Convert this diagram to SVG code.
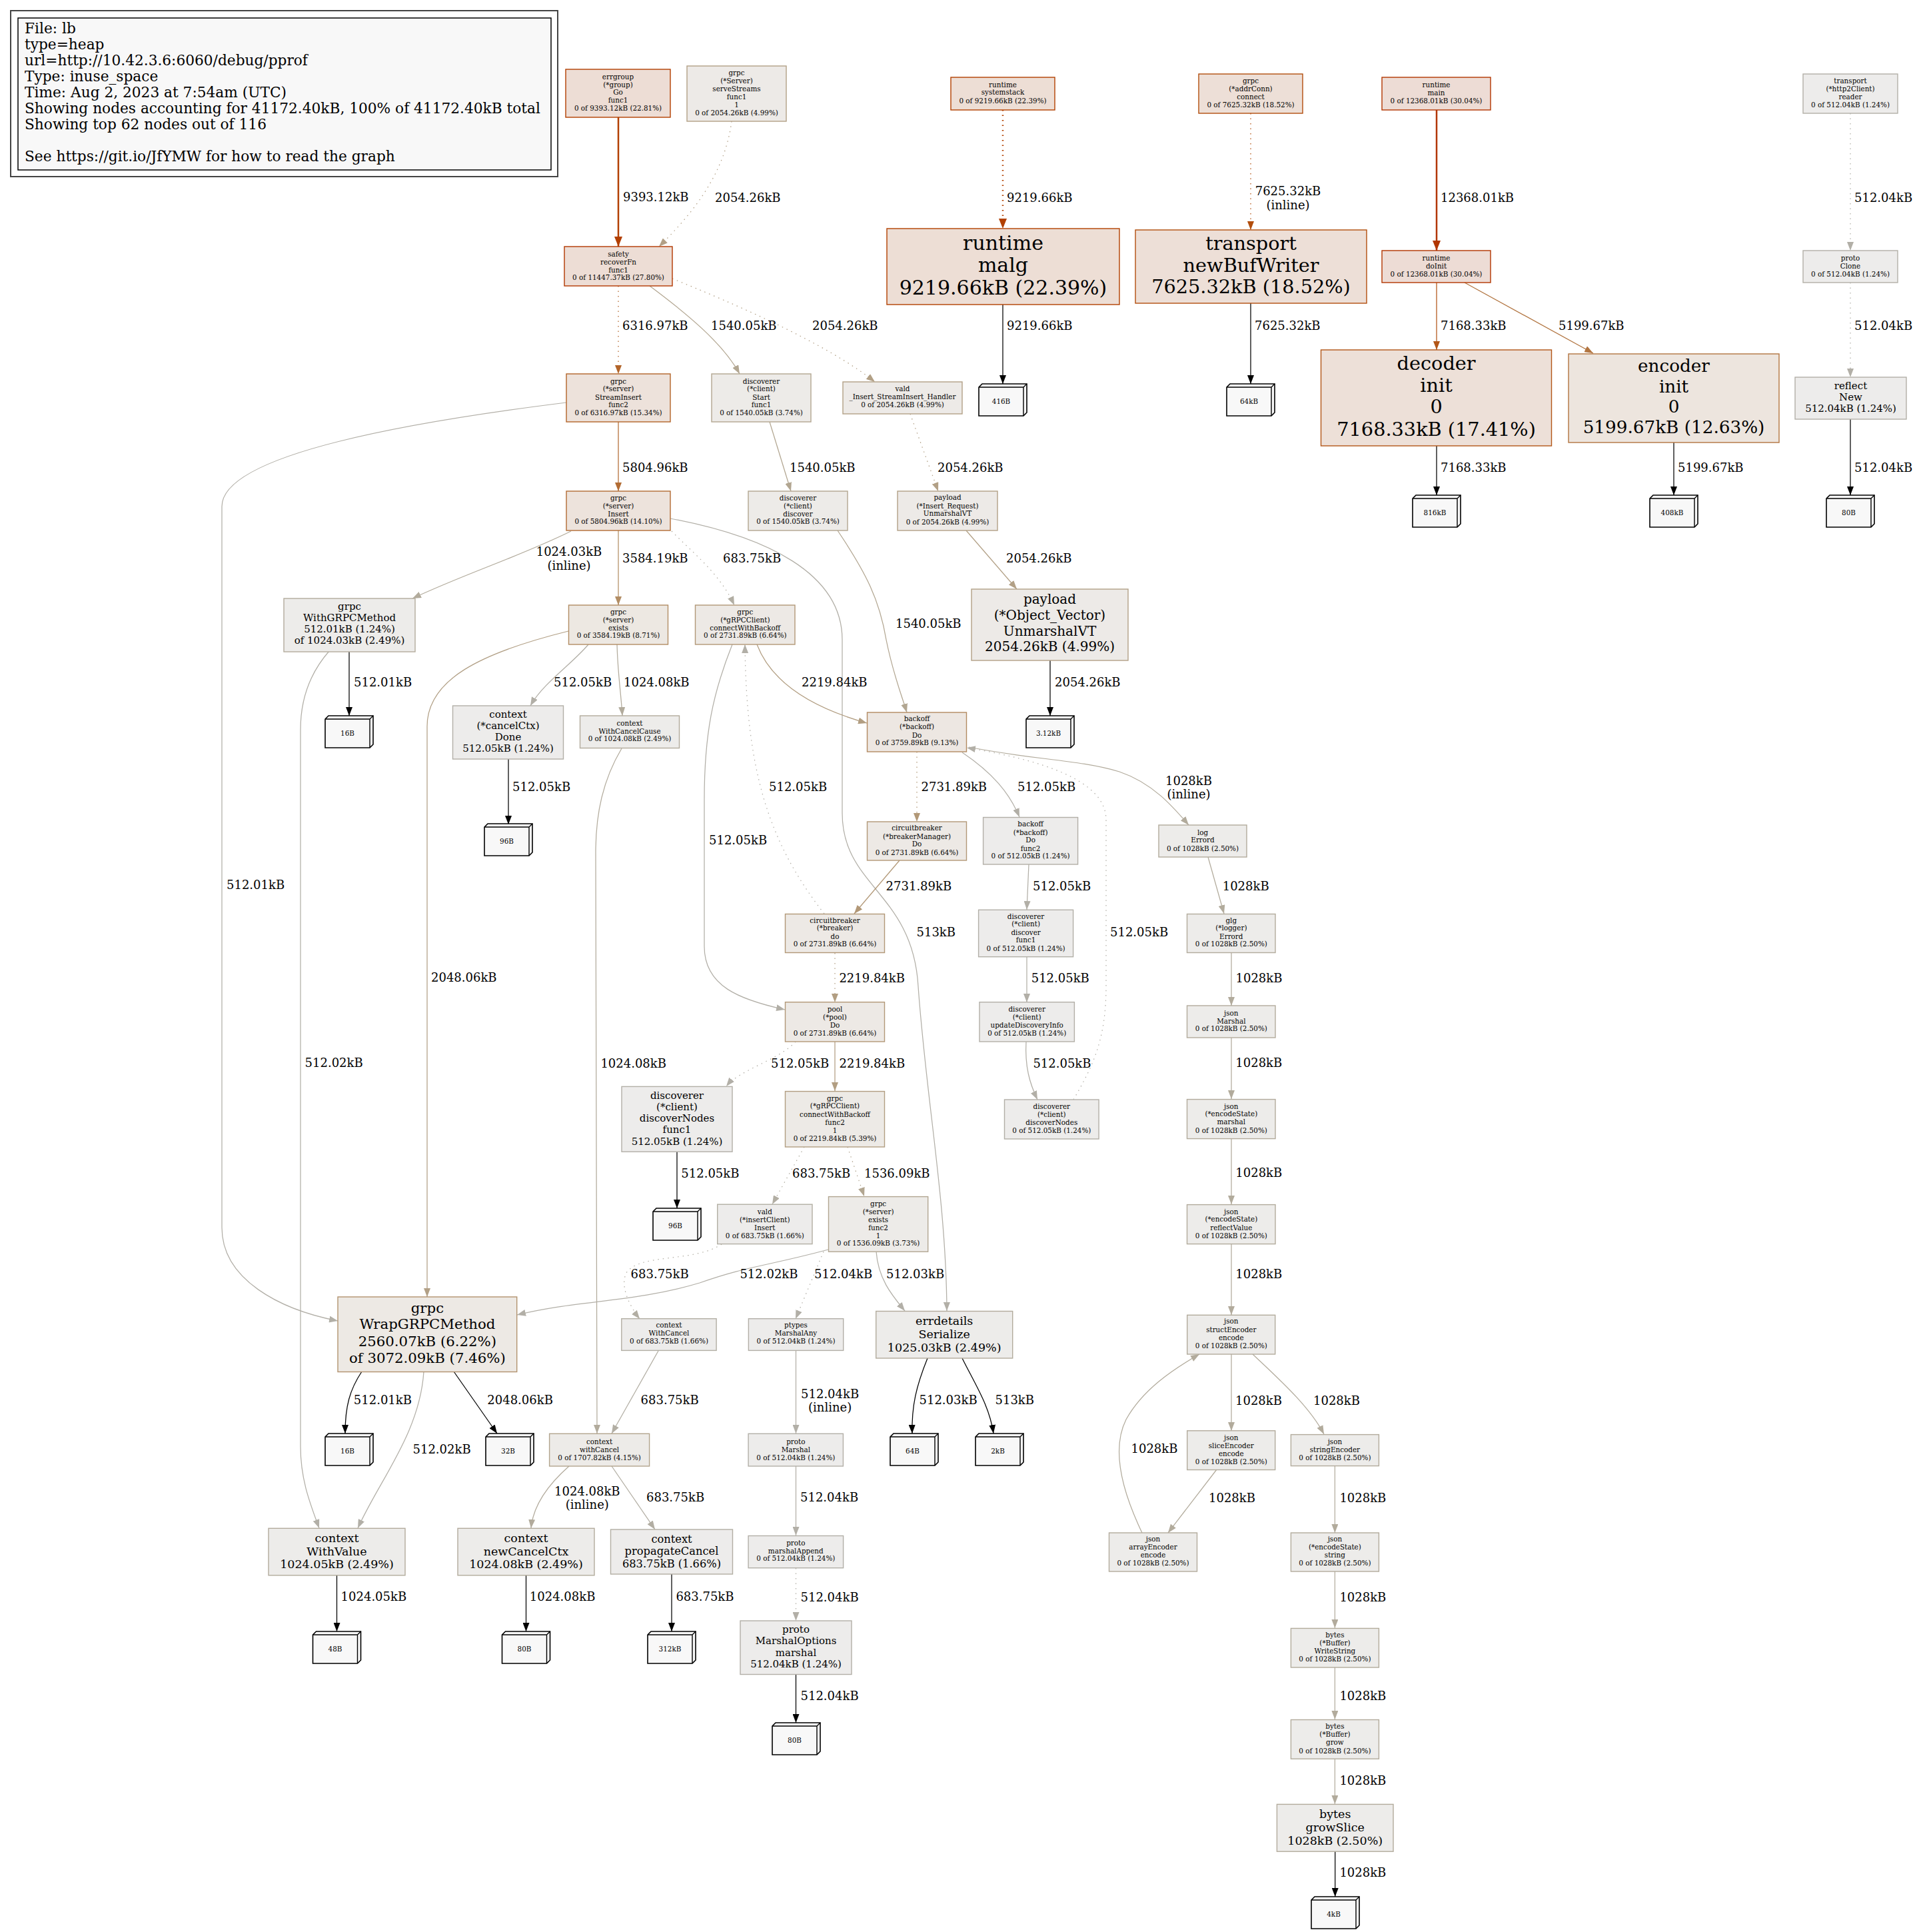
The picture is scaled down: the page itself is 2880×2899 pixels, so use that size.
<svg xmlns="http://www.w3.org/2000/svg" xmlns:xlink="http://www.w3.org/1999/xlink" width="2880" height="2899" viewBox="0 0 2880 2899">
<style>
text{font-family:"DejaVu Serif",serif;fill:#000}
.t{font-size:10.4px;text-anchor:middle}
.f15{font-size:15px;text-anchor:middle}
.f16{font-size:16.25px;text-anchor:middle}
.f17{font-size:17.5px;text-anchor:middle}
.f20{font-size:20px;text-anchor:middle}
.f21{font-size:21.25px;text-anchor:middle}
.f26{font-size:26.25px;text-anchor:middle}
.f28{font-size:28.75px;text-anchor:middle}
.f30{font-size:30px;text-anchor:middle}
.l{font-size:18px}
.lm{font-size:18px;text-anchor:middle}
.g{font-size:21.7px}
.e{fill:none;stroke-width:1.25}
.d{stroke-dasharray:1.5,6}
.w{stroke-width:2.5}
rect.n{stroke-width:1.4}
</style>
<defs>
<marker id="m36" viewBox="0 0 15 12" refX="15" refY="6" markerWidth="15" markerHeight="12" orient="auto" markerUnits="userSpaceOnUse"><path d="M0,0L15,6L0,12z" fill="#b23600"/></marker>
<marker id="m3f" viewBox="0 0 15 12" refX="15" refY="6" markerWidth="15" markerHeight="12" orient="auto" markerUnits="userSpaceOnUse"><path d="M0,0L15,6L0,12z" fill="#b23f00"/></marker>
<marker id="m40" viewBox="0 0 15 12" refX="15" refY="6" markerWidth="15" markerHeight="12" orient="auto" markerUnits="userSpaceOnUse"><path d="M0,0L15,6L0,12z" fill="#b24000"/></marker>
<marker id="m4e" viewBox="0 0 13 10" refX="13" refY="5" markerWidth="13" markerHeight="10" orient="auto" markerUnits="userSpaceOnUse"><path d="M0,0L13,5L0,10z" fill="#b24e0d"/></marker>
<marker id="m56" viewBox="0 0 13 10" refX="13" refY="5" markerWidth="13" markerHeight="10" orient="auto" markerUnits="userSpaceOnUse"><path d="M0,0L13,5L0,10z" fill="#b25617"/></marker>
<marker id="m64" viewBox="0 0 13 10" refX="13" refY="5" markerWidth="13" markerHeight="10" orient="auto" markerUnits="userSpaceOnUse"><path d="M0,0L13,5L0,10z" fill="#b26429"/></marker>
<marker id="m6c" viewBox="0 0 13 10" refX="13" refY="5" markerWidth="13" markerHeight="10" orient="auto" markerUnits="userSpaceOnUse"><path d="M0,0L13,5L0,10z" fill="#b26c34"/></marker>
<marker id="m75" viewBox="0 0 13 10" refX="13" refY="5" markerWidth="13" markerHeight="10" orient="auto" markerUnits="userSpaceOnUse"><path d="M0,0L13,5L0,10z" fill="#b27541"/></marker>
<marker id="m8d" viewBox="0 0 13 10" refX="13" refY="5" markerWidth="13" markerHeight="10" orient="auto" markerUnits="userSpaceOnUse"><path d="M0,0L13,5L0,10z" fill="#b28d64"/></marker>
<marker id="m98" viewBox="0 0 13 10" refX="13" refY="5" markerWidth="13" markerHeight="10" orient="auto" markerUnits="userSpaceOnUse"><path d="M0,0L13,5L0,10z" fill="#b29877"/></marker>
<marker id="m9e" viewBox="0 0 13 10" refX="13" refY="5" markerWidth="13" markerHeight="10" orient="auto" markerUnits="userSpaceOnUse"><path d="M0,0L13,5L0,10z" fill="#b29e82"/></marker>
<marker id="ma0" viewBox="0 0 13 10" refX="13" refY="5" markerWidth="13" markerHeight="10" orient="auto" markerUnits="userSpaceOnUse"><path d="M0,0L13,5L0,10z" fill="#b2a086"/></marker>
<marker id="ma6" viewBox="0 0 13 10" refX="13" refY="5" markerWidth="13" markerHeight="10" orient="auto" markerUnits="userSpaceOnUse"><path d="M0,0L13,5L0,10z" fill="#b2a691"/></marker>
<marker id="mab" viewBox="0 0 13 10" refX="13" refY="5" markerWidth="13" markerHeight="10" orient="auto" markerUnits="userSpaceOnUse"><path d="M0,0L13,5L0,10z" fill="#b2ab9c"/></marker>
<marker id="mae" viewBox="0 0 13 10" refX="13" refY="5" markerWidth="13" markerHeight="10" orient="auto" markerUnits="userSpaceOnUse"><path d="M0,0L13,5L0,10z" fill="#b2aea3"/></marker>
<marker id="maf" viewBox="0 0 13 10" refX="13" refY="5" markerWidth="13" markerHeight="10" orient="auto" markerUnits="userSpaceOnUse"><path d="M0,0L13,5L0,10z" fill="#b2afa7"/></marker>
<marker id="mk" viewBox="0 0 13 10" refX="13" refY="5" markerWidth="13" markerHeight="10" orient="auto" markerUnits="userSpaceOnUse"><path d="M0,0L13,5L0,10z" fill="#000"/></marker>
<g id="box3d"><path d="M0,5L5,0L72,0L72,43L67,48L0,48Z" fill="#f8f8f8" stroke="#000" stroke-width="1.6"/><path d="M0,5L67,5L67,48M67,5L72,0" fill="none" stroke="#000" stroke-width="1.4"/></g>
</defs>
<rect width="2880" height="2899" fill="#fff"/>

<g id="legend">
<rect x="16" y="16" width="821" height="249" fill="#fff" stroke="#444" stroke-width="2"/>
<rect x="27" y="27" width="800" height="228" fill="#f8f8f8" stroke="#000" stroke-width="1.5"/>
<text class="g"><tspan x="37" y="49.5">File: lb</tspan><tspan x="37" y="73.5">type=heap</tspan><tspan x="37" y="97.5">url=http://10.42.3.6:6060/debug/pprof</tspan><tspan x="37" y="122">Type: inuse_space</tspan><tspan x="37" y="146">Time: Aug 2, 2023 at 7:54am (UTC)</tspan><tspan x="37" y="170">Showing nodes accounting for 41172.40kB, 100% of 41172.40kB total</tspan><tspan x="37" y="194">Showing top 62 nodes out of 116</tspan><tspan x="37" y="242">See https://git.io/JfYMW for how to read the graph</tspan></text>
</g>

<g id="connectors">
<path class="e w" stroke="#b23f00" marker-end="url(#m3f)" d="M928,176V370"/>
<path class="e d" stroke="#b2a086" marker-end="url(#ma0)" d="M1098,182C1088,260 1040,320 989,370"/>
<path class="e d w" stroke="#b24000" marker-end="url(#m40)" d="M1505,165V343"/>
<path class="e d" stroke="#b24e0d" marker-end="url(#m4e)" d="M1877,170V345"/>
<path class="e w" stroke="#b23600" marker-end="url(#m36)" d="M2156,165V376"/>
<path class="e d" stroke="#b2afa7" marker-end="url(#maf)" d="M2777,170V376"/>
<path class="e d" stroke="#b26429" marker-end="url(#m64)" d="M928,429V561"/>
<path class="e" stroke="#b2a691" marker-end="url(#ma6)" d="M975,429C1030,470 1085,515 1110,561"/>
<path class="e d" stroke="#b2a086" marker-end="url(#ma0)" d="M1009,418C1100,455 1240,515 1313,573"/>
<path class="e" stroke="#b26c34" marker-end="url(#m6c)" d="M928,633V737"/>
<path class="e" stroke="#b2afa7" marker-end="url(#maf)" d="M850,604C560,640 333,690 333,760L333,1842C333,1920 420,1965 507,1982"/>
<path class="e" stroke="#b2ab9c" marker-end="url(#mab)" d="M857,797C780,835 700,860 619,898"/>
<path class="e" stroke="#b28d64" marker-end="url(#m8d)" d="M928,796V908"/>
<path class="e d" stroke="#b2aea3" marker-end="url(#mae)" d="M1008,797C1040,830 1080,860 1102,908"/>
<path class="e" stroke="#b2afa7" marker-end="url(#maf)" d="M1006,778C1150,805 1264,860 1264,960L1264,1220C1264,1330 1370,1340 1378,1480C1390,1650 1420,1800 1421,1967"/>
<path class="e" stroke="#b2a086" marker-end="url(#ma0)" d="M853,947C720,980 641,1020 641,1090L641,1946"/>
<path class="e" stroke="#b2afa7" marker-end="url(#maf)" d="M883,967C860,995 815,1025 796,1059"/>
<path class="e" stroke="#b2ab9c" marker-end="url(#mab)" d="M926,967C927,1010 932,1040 934,1074"/>
<path class="e" stroke="#000" marker-end="url(#mk)" d="M524,978V1074"/>
<path class="e" stroke="#b2afa7" marker-end="url(#maf)" d="M494,977C465,1010 451,1050 451,1095L451,2170C451,2220 465,2255 479,2293"/>
<path class="e" stroke="#000" marker-end="url(#mk)" d="M763,1139V1237"/>
<path class="e" stroke="#b2ab9c" marker-end="url(#mab)" d="M933,1123C905,1170 894,1220 894,1280L896,2151"/>
<path class="e" stroke="#b29e82" marker-end="url(#m9e)" d="M1136,967C1160,1030 1230,1065 1301,1085"/>
<path class="e" stroke="#b2a691" marker-end="url(#ma6)" d="M1155,633L1187,737"/>
<path class="e d" stroke="#b2a086" marker-end="url(#ma0)" d="M1366,621L1408,737"/>
<path class="e" stroke="#b2a691" marker-end="url(#ma6)" d="M1257,796C1300,860 1320,900 1330,960C1340,1010 1352,1040 1361,1069"/>
<path class="e" stroke="#b2a086" marker-end="url(#ma0)" d="M1450,796L1526,884"/>
<path class="e" stroke="#000" marker-end="url(#mk)" d="M1576,991V1074"/>
<path class="e" stroke="#b2afa7" marker-end="url(#maf)" d="M1099,967C1070,1040 1057,1100 1057,1200L1057,1420C1057,1480 1110,1500 1178,1515"/>
<path class="e d" stroke="#b2afa7" marker-end="url(#maf)" d="M1237,1371C1150,1260 1120,1150 1118,967"/>
<path class="e d" stroke="#b29877" marker-end="url(#m98)" d="M1376,1128V1233"/>
<path class="e" stroke="#b2afa7" marker-end="url(#maf)" d="M1444,1129C1490,1160 1515,1190 1530,1226"/>
<path class="e" stroke="#b2ab9c" marker-end="url(#mab)" d="M1454,1121C1550,1140 1620,1140 1680,1158C1730,1175 1760,1210 1784,1238"/>
<path class="e d" stroke="#b2afa7" marker-end="url(#maf)" d="M1611,1650C1640,1600 1660,1560 1660,1480L1660,1230C1660,1170 1560,1140 1451,1122"/>
<path class="e" stroke="#b29877" marker-end="url(#m98)" d="M1350,1291L1282,1371"/>
<path class="e" stroke="#b2afa7" marker-end="url(#maf)" d="M1544,1297L1541,1365"/>
<path class="e" stroke="#b2ab9c" marker-end="url(#mab)" d="M1813,1286L1837,1371"/>
<path class="e d" stroke="#b29e82" marker-end="url(#m9e)" d="M1253,1430V1504"/>
<path class="e" stroke="#b2afa7" marker-end="url(#maf)" d="M1541,1436V1504"/>
<path class="e" stroke="#b2ab9c" marker-end="url(#mab)" d="M1848,1430V1509"/>
<path class="e d" stroke="#b2afa7" marker-end="url(#maf)" d="M1194,1563C1170,1590 1110,1605 1090,1630"/>
<path class="e" stroke="#b29e82" marker-end="url(#m9e)" d="M1253,1563V1637"/>
<path class="e" stroke="#b2afa7" marker-end="url(#maf)" d="M1540,1563C1538,1600 1545,1625 1557,1650"/>
<path class="e" stroke="#b2ab9c" marker-end="url(#mab)" d="M1848,1557V1649"/>
<path class="e" stroke="#000" marker-end="url(#mk)" d="M1016,1728V1813"/>
<path class="e d" stroke="#b2aea3" marker-end="url(#mae)" d="M1207,1721L1159,1807"/>
<path class="e d" stroke="#b2a691" marker-end="url(#ma6)" d="M1272,1721L1297,1795"/>
<path class="e" stroke="#b2ab9c" marker-end="url(#mab)" d="M1848,1708V1807"/>
<path class="e d" stroke="#b2aea3" marker-end="url(#mae)" d="M1083,1867C1040,1895 960,1880 940,1910C930,1930 945,1960 960,1979"/>
<path class="e" stroke="#b2afa7" marker-end="url(#maf)" d="M1243,1875C1150,1900 1120,1900 1050,1925C950,1955 870,1950 776,1973"/>
<path class="e d" stroke="#b2afa7" marker-end="url(#maf)" d="M1236,1878L1194,1979"/>
<path class="e" stroke="#b2afa7" marker-end="url(#maf)" d="M1315,1878C1318,1920 1340,1945 1358,1967"/>
<path class="e" stroke="#b2ab9c" marker-end="url(#mab)" d="M1848,1866V1973"/>
<path class="e" stroke="#b2aea3" marker-end="url(#mae)" d="M988,2027L918,2151"/>
<path class="e" stroke="#b2afa7" marker-end="url(#maf)" d="M1194.5,2026V2151"/>
<path class="e" stroke="#000" marker-end="url(#mk)" d="M1392,2038C1375,2080 1368,2110 1369,2151"/>
<path class="e" stroke="#000" marker-end="url(#mk)" d="M1444,2038C1465,2080 1485,2110 1491,2151"/>
<path class="e" stroke="#b2ab9c" marker-end="url(#mab)" d="M1848,2032V2147"/>
<path class="e" stroke="#b2ab9c" marker-end="url(#mab)" d="M1880,2032C1920,2070 1965,2110 1987,2152"/>
<path class="e" stroke="#b2ab9c" marker-end="url(#mab)" d="M1714,2300C1690,2250 1665,2180 1690,2130C1715,2085 1760,2055 1800,2032"/>
<path class="e" stroke="#b2ab9c" marker-end="url(#mab)" d="M1826,2205L1753,2300"/>
<path class="e" stroke="#b2ab9c" marker-end="url(#mab)" d="M2003.4,2200V2300"/>
<path class="e" stroke="#b2ab9c" marker-end="url(#mab)" d="M2003.4,2358V2443"/>
<path class="e" stroke="#b2ab9c" marker-end="url(#mab)" d="M2003.4,2502V2580"/>
<path class="e" stroke="#b2ab9c" marker-end="url(#mab)" d="M2003.4,2639V2707"/>
<path class="e" stroke="#000" marker-end="url(#mk)" d="M2003.7,2778V2846"/>
<path class="e" stroke="#000" marker-end="url(#mk)" d="M543,2058C525,2085 518,2110 518,2151"/>
<path class="e" stroke="#000" marker-end="url(#mk)" d="M681,2058L746,2151"/>
<path class="e" stroke="#b2afa7" marker-end="url(#maf)" d="M636,2058C630,2150 570,2220 537,2293"/>
<path class="e" stroke="#b2ab9c" marker-end="url(#mab)" d="M854,2200C820,2230 800,2260 797,2293"/>
<path class="e" stroke="#b2aea3" marker-end="url(#mae)" d="M918,2200L983,2295"/>
<path class="e" stroke="#b2afa7" marker-end="url(#maf)" d="M1194.5,2200V2304"/>
<path class="e" stroke="#000" marker-end="url(#mk)" d="M505.5,2364V2448"/>
<path class="e" stroke="#000" marker-end="url(#mk)" d="M789.5,2364V2448"/>
<path class="e" stroke="#000" marker-end="url(#mk)" d="M1008,2362V2448"/>
<path class="e d" stroke="#b2afa7" marker-end="url(#maf)" d="M1194.5,2353V2432"/>
<path class="e" stroke="#000" marker-end="url(#mk)" d="M1194.5,2512V2585"/>
<path class="e" stroke="#000" marker-end="url(#mk)" d="M1505,457V576"/>
<path class="e" stroke="#000" marker-end="url(#mk)" d="M1877,455V576"/>
<path class="e" stroke="#b25617" marker-end="url(#m56)" d="M2156,424V525"/>
<path class="e" stroke="#b27541" marker-end="url(#m75)" d="M2198,424L2391,530"/>
<path class="e d" stroke="#b2afa7" marker-end="url(#maf)" d="M2777,424V566"/>
<path class="e" stroke="#000" marker-end="url(#mk)" d="M2156,669V743"/>
<path class="e" stroke="#000" marker-end="url(#mk)" d="M2512,664V743"/>
<path class="e" stroke="#000" marker-end="url(#mk)" d="M2777,629V743"/>

<text class="l" x="935" y="302">9393.12kB</text>
<text class="l" x="1073" y="303">2054.26kB</text>
<text class="l" x="1511" y="303">9219.66kB</text>
<text class="lm"><tspan x="1933" y="293">7625.32kB</tspan><tspan x="1933" y="314">(inline)</tspan></text>
<text class="l" x="2162" y="303">12368.01kB</text>
<text class="l" x="2783" y="303">512.04kB</text>
<text class="l" x="934" y="495">6316.97kB</text>
<text class="l" x="1067" y="495">1540.05kB</text>
<text class="l" x="1219" y="495">2054.26kB</text>
<text class="l" x="1511" y="495">9219.66kB</text>
<text class="l" x="1883" y="495">7625.32kB</text>
<text class="l" x="2162" y="495">7168.33kB</text>
<text class="l" x="2339" y="495">5199.67kB</text>
<text class="l" x="2783" y="495">512.04kB</text>
<text class="l" x="934" y="707.6">5804.96kB</text>
<text class="l" x="1185" y="707.6">1540.05kB</text>
<text class="l" x="1407" y="707.6">2054.26kB</text>
<text class="l" x="2162" y="707.6">7168.33kB</text>
<text class="l" x="2518" y="707.6">5199.67kB</text>
<text class="l" x="2783" y="707.6">512.04kB</text>
<text class="lm"><tspan x="854" y="834">1024.03kB</tspan><tspan x="854" y="855">(inline)</tspan></text>
<text class="l" x="934" y="844">3584.19kB</text>
<text class="l" x="1085" y="844">683.75kB</text>
<text class="l" x="1510" y="844">2054.26kB</text>
<text class="l" x="1344" y="941.8">1540.05kB</text>
<text class="l" x="1583" y="1029.6">2054.26kB</text>
<text class="l" x="831" y="1030">512.05kB</text>
<text class="l" x="936" y="1030">1024.08kB</text>
<text class="l" x="531" y="1030">512.01kB</text>
<text class="l" x="1203" y="1030">2219.84kB</text>
<text class="l" x="769" y="1187">512.05kB</text>
<text class="l" x="1154" y="1187">512.05kB</text>
<text class="l" x="1382.5" y="1187">2731.89kB</text>
<text class="l" x="1527" y="1187">512.05kB</text>
<text class="lm"><tspan x="1784" y="1177.5">1028kB</tspan><tspan x="1784" y="1198">(inline)</tspan></text>
<text class="l" x="1064" y="1267">512.05kB</text>
<text class="l" x="340" y="1334">512.01kB</text>
<text class="l" x="1329.6" y="1335.7">2731.89kB</text>
<text class="l" x="1550" y="1335.7">512.05kB</text>
<text class="l" x="1834.7" y="1335.7">1028kB</text>
<text class="l" x="1375.5" y="1405">513kB</text>
<text class="l" x="1666" y="1405">512.05kB</text>
<text class="l" x="647" y="1473">2048.06kB</text>
<text class="l" x="1259.4" y="1474">2219.84kB</text>
<text class="l" x="1547.7" y="1474">512.05kB</text>
<text class="l" x="1854.5" y="1474">1028kB</text>
<text class="l" x="457.6" y="1601">512.02kB</text>
<text class="l" x="901.4" y="1601.7">1024.08kB</text>
<text class="l" x="1157" y="1601.7">512.05kB</text>
<text class="l" x="1259.6" y="1601.7">2219.84kB</text>
<text class="l" x="1550.4" y="1601.7">512.05kB</text>
<text class="l" x="1854.3" y="1601">1028kB</text>
<text class="l" x="1022.3" y="1766.9">512.05kB</text>
<text class="l" x="1189" y="1766.9">683.75kB</text>
<text class="l" x="1297" y="1766.9">1536.09kB</text>
<text class="l" x="1854.3" y="1766.4">1028kB</text>
<text class="l" x="946.6" y="1917.8">683.75kB</text>
<text class="l" x="1110.4" y="1917.8">512.02kB</text>
<text class="l" x="1222" y="1917.8">512.04kB</text>
<text class="l" x="1330" y="1917.8">512.03kB</text>
<text class="l" x="1854.3" y="1917.8">1028kB</text>
<text class="l" x="961.6" y="2107.4">683.75kB</text>
<text class="lm"><tspan x="1245.6" y="2097.6">512.04kB</tspan><tspan x="1245.6" y="2117.7">(inline)</tspan></text>
<text class="l" x="1379.5" y="2107.4">512.03kB</text>
<text class="l" x="1493.5" y="2107.4">513kB</text>
<text class="l" x="1854" y="2107.6">1028kB</text>
<text class="l" x="1971" y="2107.6">1028kB</text>
<text class="l" x="530.8" y="2107.4">512.01kB</text>
<text class="l" x="731.3" y="2107.4">2048.06kB</text>
<text class="l" x="1697.5" y="2180.3">1028kB</text>
<text class="l" x="619.5" y="2180.6">512.02kB</text>
<text class="lm"><tspan x="881.3" y="2243.6">1024.08kB</tspan><tspan x="881.3" y="2263.7">(inline)</tspan></text>
<text class="l" x="970" y="2253.4">683.75kB</text>
<text class="l" x="1201" y="2253.4">512.04kB</text>
<text class="l" x="1814" y="2253.7">1028kB</text>
<text class="l" x="2010.4" y="2253.7">1028kB</text>
<text class="l" x="511.6" y="2402.1">1024.05kB</text>
<text class="l" x="794.8" y="2402.1">1024.08kB</text>
<text class="l" x="1014.4" y="2402.1">683.75kB</text>
<text class="l" x="1201.5" y="2402.5">512.04kB</text>
<text class="l" x="2010.4" y="2402.9">1028kB</text>
<text class="l" x="2010.4" y="2550.9">1028kB</text>
<text class="l" x="1201.5" y="2550.7">512.04kB</text>
<text class="l" x="2010.4" y="2677.8">1028kB</text>
<text class="l" x="2010.4" y="2816.1">1028kB</text>
</g>

<g id="n-errgroup"><rect class="n" x="849" y="104" width="157" height="72" fill="#edddd5" stroke="#b23f00"/><text class="t"><tspan x="927.5" y="118.9">errgroup</tspan><tspan x="927.5" y="130.6">(*group)</tspan><tspan x="927.5" y="142.4">Go</tspan><tspan x="927.5" y="154.2">func1</tspan><tspan x="927.5" y="166.4">0 of 9393.12kB (22.81%)</tspan></text></g>
<g id="n-serveStreams"><rect class="n" x="1031" y="99" width="149" height="83" fill="#edeae7" stroke="#b2a086"/><text class="t"><tspan x="1105.5" y="113.1">grpc</tspan><tspan x="1105.5" y="124.5">(*Server)</tspan><tspan x="1105.5" y="136.7">serveStreams</tspan><tspan x="1105.5" y="148.5">func1</tspan><tspan x="1105.5" y="160.5">1</tspan><tspan x="1105.5" y="172.5">0 of 2054.26kB (4.99%)</tspan></text></g>
<g id="n-systemstack"><rect class="n" x="1427" y="116" width="156" height="49" fill="#edded5" stroke="#b24000"/><text class="t"><tspan x="1505" y="130.6">runtime</tspan><tspan x="1505" y="142.4">systemstack</tspan><tspan x="1505" y="154.6">0 of 9219.66kB (22.39%)</tspan></text></g>
<g id="n-addrConn"><rect class="n" x="1799" y="111" width="156" height="59" fill="#eddfd7" stroke="#b24e0d"/><text class="t"><tspan x="1877" y="125.3">grpc</tspan><tspan x="1877" y="136.7">(*addrConn)</tspan><tspan x="1877" y="148.5">connect</tspan><tspan x="1877" y="160.6">0 of 7625.32kB (18.52%)</tspan></text></g>
<g id="n-main"><rect class="n" x="2074" y="116" width="163" height="49" fill="#eddcd5" stroke="#b23600"/><text class="t"><tspan x="2155.5" y="130.6">runtime</tspan><tspan x="2155.5" y="142.8">main</tspan><tspan x="2155.5" y="154.6">0 of 12368.01kB (30.04%)</tspan></text></g>
<g id="n-http2reader"><rect class="n" x="2706" y="111" width="142" height="59" fill="#edeceb" stroke="#b2afa7"/><text class="t"><tspan x="2777" y="124.5">transport</tspan><tspan x="2777" y="136.7">(*http2Client)</tspan><tspan x="2777" y="148.5">reader</tspan><tspan x="2777" y="160.6">0 of 512.04kB (1.24%)</tspan></text></g>
<g id="n-doInit"><rect class="n" x="2074" y="376" width="163" height="48" fill="#eddcd5" stroke="#b23600"/><text class="t"><tspan x="2155.5" y="390.6">runtime</tspan><tspan x="2155.5" y="402.5">doInit</tspan><tspan x="2155.5" y="414.5">0 of 12368.01kB (30.04%)</tspan></text></g>
<g id="n-clone"><rect class="n" x="2706" y="376" width="142" height="48" fill="#edeceb" stroke="#b2afa7"/><text class="t"><tspan x="2777" y="390.6">proto</tspan><tspan x="2777" y="402.5">Clone</tspan><tspan x="2777" y="414.5">0 of 512.04kB (1.24%)</tspan></text></g>
<g id="n-recoverFn"><rect class="n" x="847" y="370" width="162" height="59" fill="#edddd5" stroke="#b23800"/><text class="t"><tspan x="928" y="384.9">safety</tspan><tspan x="928" y="397.1">recoverFn</tspan><tspan x="928" y="408.5">func1</tspan><tspan x="928" y="419.9">0 of 11447.37kB (27.80%)</tspan></text></g>
<g id="n-malg"><rect class="n" x="1331" y="343" width="349" height="114" fill="#edded5" stroke="#b24000"/><text class="f30"><tspan x="1505.5" y="374.5">runtime</tspan><tspan x="1505.5" y="407.5">malg</tspan><tspan x="1505.5" y="441.5">9219.66kB (22.39%)</tspan></text></g>
<g id="n-newBufWriter"><rect class="n" x="1704" y="345" width="347" height="110" fill="#eddfd7" stroke="#b24e0d"/><text class="f28"><tspan x="1877.5" y="375">transport</tspan><tspan x="1877.5" y="408.2">newBufWriter</tspan><tspan x="1877.5" y="439.6">7625.32kB (18.52%)</tspan></text></g>
<g id="n-decoder"><rect class="n" x="1982.5" y="525" width="346" height="144" fill="#ede0d8" stroke="#b25617"/><text class="f28"><tspan x="2155.6" y="554.9">decoder</tspan><tspan x="2155.6" y="588">init</tspan><tspan x="2155.6" y="620.2">0</tspan><tspan x="2155.6" y="654.4">7168.33kB (17.41%)</tspan></text></g>
<g id="n-encoder"><rect class="n" x="2354" y="531" width="316" height="133" fill="#ede5de" stroke="#b27541"/><text class="f26"><tspan x="2512" y="558.2">encoder</tspan><tspan x="2512" y="588.8">init</tspan><tspan x="2512" y="619.4">0</tspan><tspan x="2512" y="650">5199.67kB (12.63%)</tspan></text></g>
<g id="n-reflectNew"><rect class="n" x="2694" y="566" width="167" height="63" fill="#edeceb" stroke="#b2afa7"/><text class="f15"><tspan x="2777.5" y="583.9">reflect</tspan><tspan x="2777.5" y="600.7">New</tspan><tspan x="2777.5" y="618">512.04kB (1.24%)</tspan></text></g>
<g id="n-streamInsert"><rect class="n" x="850" y="561" width="156" height="72" fill="#ede2db" stroke="#b26429"/><text class="t"><tspan x="928" y="576">grpc</tspan><tspan x="928" y="587.2">(*server)</tspan><tspan x="928" y="599.7">StreamInsert</tspan><tspan x="928" y="611.3">func2</tspan><tspan x="928" y="623.3">0 of 6316.97kB (15.34%)</tspan></text></g>
<g id="n-startFunc1"><rect class="n" x="1068" y="561" width="149" height="72" fill="#edebe8" stroke="#b2a691"/><text class="t"><tspan x="1142.5" y="576">discoverer</tspan><tspan x="1142.5" y="587.2">(*client)</tspan><tspan x="1142.5" y="599.7">Start</tspan><tspan x="1142.5" y="611.3">func1</tspan><tspan x="1142.5" y="623.3">0 of 1540.05kB (3.74%)</tspan></text></g>
<g id="n-valdHandler"><rect class="n" x="1265" y="573" width="179" height="48" fill="#edeae7" stroke="#b2a086"/><text class="t"><tspan x="1354.5" y="587.2">vald</tspan><tspan x="1354.5" y="599.2">_Insert_StreamInsert_Handler</tspan><tspan x="1354.5" y="611.3">0 of 2054.26kB (4.99%)</tspan></text></g>
<g id="n-insert"><rect class="n" x="850" y="737" width="156" height="59" fill="#ede3dc" stroke="#b26c34"/><text class="t"><tspan x="928" y="751">grpc</tspan><tspan x="928" y="762.6">(*server)</tspan><tspan x="928" y="774.7">Insert</tspan><tspan x="928" y="786.3">0 of 5804.96kB (14.10%)</tspan></text></g>
<g id="n-discover"><rect class="n" x="1123" y="737" width="149" height="59" fill="#edebe8" stroke="#b2a691"/><text class="t"><tspan x="1197.5" y="750.5">discoverer</tspan><tspan x="1197.5" y="762.5">(*client)</tspan><tspan x="1197.5" y="774.5">discover</tspan><tspan x="1197.5" y="786.3">0 of 1540.05kB (3.74%)</tspan></text></g>
<g id="n-insertReqUnmarshal"><rect class="n" x="1347" y="737" width="150" height="59" fill="#edeae7" stroke="#b2a086"/><text class="t"><tspan x="1422" y="750.4">payload</tspan><tspan x="1422" y="762.7">(*Insert_Request)</tspan><tspan x="1422" y="774.4">UnmarshalVT</tspan><tspan x="1422" y="786.7">0 of 2054.26kB (4.99%)</tspan></text></g>
<g id="n-withGRPCMethod"><rect class="n" x="426" y="898" width="197" height="80" fill="#edecea" stroke="#b2ab9c"/><text class="f15"><tspan x="524.5" y="914.9">grpc</tspan><tspan x="524.5" y="932.3">WithGRPCMethod</tspan><tspan x="524.5" y="949.2">512.01kB (1.24%)</tspan><tspan x="524.5" y="966.2">of 1024.03kB (2.49%)</tspan></text></g>
<g id="n-exists"><rect class="n" x="853.5" y="908" width="149" height="59" fill="#ede8e2" stroke="#b28d64"/><text class="t"><tspan x="928" y="922">grpc</tspan><tspan x="928" y="933.6">(*server)</tspan><tspan x="928" y="945.6">exists</tspan><tspan x="928" y="957.3">0 of 3584.19kB (8.71%)</tspan></text></g>
<g id="n-connectWithBackoff"><rect class="n" x="1043.5" y="908" width="149.5" height="59" fill="#ede9e5" stroke="#b29877"/><text class="t"><tspan x="1118.3" y="922">grpc</tspan><tspan x="1118.3" y="933.6">(*gRPCClient)</tspan><tspan x="1118.3" y="945.6">connectWithBackoff</tspan><tspan x="1118.3" y="957.3">0 of 2731.89kB (6.64%)</tspan></text></g>
<g id="n-objectVector"><rect class="n" x="1458" y="884" width="235" height="107" fill="#edeae7" stroke="#b2a086"/><text class="f20"><tspan x="1575.5" y="906">payload</tspan><tspan x="1575.5" y="930">(*Object_Vector)</tspan><tspan x="1575.5" y="954">UnmarshalVT</tspan><tspan x="1575.5" y="977.4">2054.26kB (4.99%)</tspan></text></g>
<g id="n-cancelCtxDone"><rect class="n" x="679.5" y="1059" width="166" height="80" fill="#edeceb" stroke="#b2afa7"/><text class="f15"><tspan x="762.5" y="1076.9">context</tspan><tspan x="762.5" y="1093.9">(*cancelCtx)</tspan><tspan x="762.5" y="1110.8">Done</tspan><tspan x="762.5" y="1128.3">512.05kB (1.24%)</tspan></text></g>
<g id="n-withCancelCause"><rect class="n" x="870.5" y="1074" width="149" height="48.5" fill="#edecea" stroke="#b2ab9c"/><text class="t"><tspan x="945" y="1088.5">context</tspan><tspan x="945" y="1100.5">WithCancelCause</tspan><tspan x="945" y="1112.2">0 of 1024.08kB (2.49%)</tspan></text></g>
<g id="n-backoffDo"><rect class="n" x="1301.5" y="1069" width="149" height="59" fill="#ede7e2" stroke="#b28a61"/><text class="t"><tspan x="1376" y="1082.1">backoff</tspan><tspan x="1376" y="1094.3">(*backoff)</tspan><tspan x="1376" y="1106.5">Do</tspan><tspan x="1376" y="1118.3">0 of 3759.89kB (9.13%)</tspan></text></g>
<g id="n-breakerManagerDo"><rect class="n" x="1301.5" y="1233" width="149" height="58" fill="#ede9e5" stroke="#b29877"/><text class="t"><tspan x="1376" y="1246.4">circuitbreaker</tspan><tspan x="1376" y="1258.6">(*breakerManager)</tspan><tspan x="1376" y="1270.3">Do</tspan><tspan x="1376" y="1282.6">0 of 2731.89kB (6.64%)</tspan></text></g>
<g id="n-backoffDoFunc2"><rect class="n" x="1475.6" y="1226.5" width="142" height="70.5" fill="#edeceb" stroke="#b2afa7"/><text class="t"><tspan x="1546.6" y="1240.2">backoff</tspan><tspan x="1546.6" y="1252.5">(*backoff)</tspan><tspan x="1546.6" y="1264.2">Do</tspan><tspan x="1546.6" y="1276.5">func2</tspan><tspan x="1546.6" y="1288.2">0 of 512.05kB (1.24%)</tspan></text></g>
<g id="n-logErrord"><rect class="n" x="1739" y="1238" width="132" height="48" fill="#edecea" stroke="#b2ab9c"/><text class="t"><tspan x="1805" y="1252.5">log</tspan><tspan x="1805" y="1264.2">Errord</tspan><tspan x="1805" y="1276.5">0 of 1028kB (2.50%)</tspan></text></g>
<g id="n-breakerDo"><rect class="n" x="1178.5" y="1371.5" width="149" height="58" fill="#ede9e5" stroke="#b29877"/><text class="t"><tspan x="1253" y="1384.6">circuitbreaker</tspan><tspan x="1253" y="1396.4">(*breaker)</tspan><tspan x="1253" y="1408.6">do</tspan><tspan x="1253" y="1420.3">0 of 2731.89kB (6.64%)</tspan></text></g>
<g id="n-discoverFunc1"><rect class="n" x="1468.6" y="1365.3" width="142" height="70.4" fill="#edeceb" stroke="#b2afa7"/><text class="t"><tspan x="1539.6" y="1378.5">discoverer</tspan><tspan x="1539.6" y="1390.2">(*client)</tspan><tspan x="1539.6" y="1402.5">discover</tspan><tspan x="1539.6" y="1414.2">func1</tspan><tspan x="1539.6" y="1426.5">0 of 512.05kB (1.24%)</tspan></text></g>
<g id="n-glgErrord"><rect class="n" x="1781.5" y="1371.5" width="132.5" height="58" fill="#edecea" stroke="#b2ab9c"/><text class="t"><tspan x="1847.8" y="1384.6">glg</tspan><tspan x="1847.8" y="1396.4">(*logger)</tspan><tspan x="1847.8" y="1408.6">Errord</tspan><tspan x="1847.8" y="1420.3">0 of 1028kB (2.50%)</tspan></text></g>
<g id="n-jsonMarshal"><rect class="n" x="1781.5" y="1509" width="132.5" height="48" fill="#edecea" stroke="#b2ab9c"/><text class="t"><tspan x="1847.8" y="1524">json</tspan><tspan x="1847.8" y="1535.6">Marshal</tspan><tspan x="1847.8" y="1547.3">0 of 1028kB (2.50%)</tspan></text></g>
<g id="n-encodeStateMarshal"><rect class="n" x="1781.5" y="1649.6" width="132.5" height="59" fill="#edecea" stroke="#b2ab9c"/><text class="t"><tspan x="1847.8" y="1663.8">json</tspan><tspan x="1847.8" y="1675.4">(*encodeState)</tspan><tspan x="1847.8" y="1687.4">marshal</tspan><tspan x="1847.8" y="1699.5">0 of 1028kB (2.50%)</tspan></text></g>
<g id="n-reflectValue"><rect class="n" x="1781.5" y="1807.6" width="132.5" height="59" fill="#edecea" stroke="#b2ab9c"/><text class="t"><tspan x="1847.8" y="1821.8">json</tspan><tspan x="1847.8" y="1833.4">(*encodeState)</tspan><tspan x="1847.8" y="1845.5">reflectValue</tspan><tspan x="1847.8" y="1857.5">0 of 1028kB (2.50%)</tspan></text></g>
<g id="n-structEncoder"><rect class="n" x="1781.7" y="1973.3" width="132" height="58.7" fill="#edecea" stroke="#b2ab9c"/><text class="t"><tspan x="1847.8" y="1986.4">json</tspan><tspan x="1847.8" y="1998.5">structEncoder</tspan><tspan x="1847.8" y="2010.6">encode</tspan><tspan x="1847.8" y="2022.8">0 of 1028kB (2.50%)</tspan></text></g>
<g id="n-sliceEncoder"><rect class="n" x="1781.7" y="2146.8" width="132" height="58.7" fill="#edecea" stroke="#b2ab9c"/><text class="t"><tspan x="1847.8" y="2161.2">json</tspan><tspan x="1847.8" y="2172.6">sliceEncoder</tspan><tspan x="1847.8" y="2184.8">encode</tspan><tspan x="1847.8" y="2196.9">0 of 1028kB (2.50%)</tspan></text></g>
<g id="n-stringEncoder"><rect class="n" x="1937.4" y="2152.6" width="132" height="47" fill="#edecea" stroke="#b2ab9c"/><text class="t"><tspan x="2003.4" y="2166.9">json</tspan><tspan x="2003.4" y="2179">stringEncoder</tspan><tspan x="2003.4" y="2191.1">0 of 1028kB (2.50%)</tspan></text></g>
<g id="n-arrayEncoder"><rect class="n" x="1664.5" y="2300" width="132" height="58" fill="#edecea" stroke="#b2ab9c"/><text class="t"><tspan x="1730.5" y="2312.9">json</tspan><tspan x="1730.5" y="2325.1">arrayEncoder</tspan><tspan x="1730.5" y="2337.2">encode</tspan><tspan x="1730.5" y="2349.3">0 of 1028kB (2.50%)</tspan></text></g>
<g id="n-encodeStateString"><rect class="n" x="1937.4" y="2300" width="132" height="58" fill="#edecea" stroke="#b2ab9c"/><text class="t"><tspan x="2003.4" y="2312.9">json</tspan><tspan x="2003.4" y="2325.1">(*encodeState)</tspan><tspan x="2003.4" y="2337.2">string</tspan><tspan x="2003.4" y="2349.3">0 of 1028kB (2.50%)</tspan></text></g>
<g id="n-writeString"><rect class="n" x="1937.4" y="2443.4" width="132" height="58.6" fill="#edecea" stroke="#b2ab9c"/><text class="t"><tspan x="2003.4" y="2457.1">bytes</tspan><tspan x="2003.4" y="2469.2">(*Buffer)</tspan><tspan x="2003.4" y="2481.3">WriteString</tspan><tspan x="2003.4" y="2493.4">0 of 1028kB (2.50%)</tspan></text></g>
<g id="n-bufferGrow"><rect class="n" x="1937.4" y="2580.5" width="132" height="58.7" fill="#edecea" stroke="#b2ab9c"/><text class="t"><tspan x="2003.4" y="2594.2">bytes</tspan><tspan x="2003.4" y="2606.3">(*Buffer)</tspan><tspan x="2003.4" y="2618.4">grow</tspan><tspan x="2003.4" y="2630.5">0 of 1028kB (2.50%)</tspan></text></g>
<g id="n-growSlice"><rect class="n" x="1916.4" y="2707.4" width="174.6" height="70.8" fill="#edecea" stroke="#b2ab9c"/><text class="f17"><tspan x="2003.7" y="2727.5">bytes</tspan><tspan x="2003.7" y="2747.9">growSlice</tspan><tspan x="2003.7" y="2767.7">1028kB (2.50%)</tspan></text></g>
<g id="n-poolDo"><rect class="n" x="1178.5" y="1503.7" width="149" height="59.3" fill="#ede9e5" stroke="#b29877"/><text class="t"><tspan x="1253" y="1517.9">pool</tspan><tspan x="1253" y="1529.5">(*pool)</tspan><tspan x="1253" y="1541.5">Do</tspan><tspan x="1253" y="1553.5">0 of 2731.89kB (6.64%)</tspan></text></g>
<g id="n-updateDiscoveryInfo"><rect class="n" x="1470" y="1503.7" width="142.4" height="59.3" fill="#edeceb" stroke="#b2afa7"/><text class="t"><tspan x="1541.2" y="1517.9">discoverer</tspan><tspan x="1541.2" y="1529.5">(*client)</tspan><tspan x="1541.2" y="1541.5">updateDiscoveryInfo</tspan><tspan x="1541.2" y="1553.5">0 of 512.05kB (1.24%)</tspan></text></g>
<g id="n-discoverNodesFunc1"><rect class="n" x="933" y="1630.4" width="166" height="97.8" fill="#edeceb" stroke="#b2afa7"/><text class="f15"><tspan x="1016" y="1649">discoverer</tspan><tspan x="1016" y="1665.6">(*client)</tspan><tspan x="1016" y="1682.5">discoverNodes</tspan><tspan x="1016" y="1700.4">func1</tspan><tspan x="1016" y="1717.8">512.05kB (1.24%)</tspan></text></g>
<g id="n-connectWithBackoffFunc2"><rect class="n" x="1178.5" y="1637.6" width="149" height="83.4" fill="#edeae6" stroke="#b29e82"/><text class="t"><tspan x="1253" y="1652.2">grpc</tspan><tspan x="1253" y="1663.4">(*gRPCClient)</tspan><tspan x="1253" y="1675.5">connectWithBackoff</tspan><tspan x="1253" y="1687.5">func2</tspan><tspan x="1253" y="1699.5">1</tspan><tspan x="1253" y="1711.5">0 of 2219.84kB (5.39%)</tspan></text></g>
<g id="n-discoverNodes"><rect class="n" x="1507.5" y="1650" width="141.6" height="59" fill="#edeceb" stroke="#b2afa7"/><text class="t"><tspan x="1578.3" y="1663.9">discoverer</tspan><tspan x="1578.3" y="1675.5">(*client)</tspan><tspan x="1578.3" y="1687.5">discoverNodes</tspan><tspan x="1578.3" y="1699.5">0 of 512.05kB (1.24%)</tspan></text></g>
<g id="n-insertClientInsert"><rect class="n" x="1076.7" y="1807.2" width="142.3" height="59.4" fill="#edeceb" stroke="#b2aea3"/><text class="t"><tspan x="1147.8" y="1821.5">vald</tspan><tspan x="1147.8" y="1833.5">(*insertClient)</tspan><tspan x="1147.8" y="1845.5">Insert</tspan><tspan x="1147.8" y="1857.5">0 of 683.75kB (1.66%)</tspan></text></g>
<g id="n-existsFunc2"><rect class="n" x="1243.5" y="1795.6" width="149.2" height="82.6" fill="#edebe8" stroke="#b2a691"/><text class="t"><tspan x="1318.1" y="1809.8">grpc</tspan><tspan x="1318.1" y="1821.5">(*server)</tspan><tspan x="1318.1" y="1833.5">exists</tspan><tspan x="1318.1" y="1845.5">func2</tspan><tspan x="1318.1" y="1857.5">1</tspan><tspan x="1318.1" y="1869.2">0 of 1536.09kB (3.73%)</tspan></text></g>
<g id="n-contextWithCancel"><rect class="n" x="932.8" y="1978.7" width="142.3" height="47.7" fill="#edeceb" stroke="#b2aea3"/><text class="t"><tspan x="1004" y="1992.4">context</tspan><tspan x="1004" y="2004">WithCancel</tspan><tspan x="1004" y="2016.1">0 of 683.75kB (1.66%)</tspan></text></g>
<g id="n-marshalAny"><rect class="n" x="1123.4" y="1978.7" width="142.3" height="47.7" fill="#edeceb" stroke="#b2afa7"/><text class="t"><tspan x="1194.5" y="1992.4">ptypes</tspan><tspan x="1194.5" y="2004">MarshalAny</tspan><tspan x="1194.5" y="2016.1">0 of 512.04kB (1.24%)</tspan></text></g>
<g id="n-errdetailsSerialize"><rect class="n" x="1314.7" y="1967.5" width="205" height="70.5" fill="#edecea" stroke="#b2ab9c"/><text class="f17"><tspan x="1417.2" y="1988.3">errdetails</tspan><tspan x="1417.2" y="2008">Serialize</tspan><tspan x="1417.2" y="2027.6">1025.03kB (2.49%)</tspan></text></g>
<g id="n-wrapGRPCMethod"><rect class="n" x="507" y="1946" width="268.7" height="112.5" fill="#ede9e4" stroke="#b2936f"/><text class="f21"><tspan x="641.4" y="1970.4">grpc</tspan><tspan x="641.4" y="1994.4">WrapGRPCMethod</tspan><tspan x="641.4" y="2019.9">2560.07kB (6.22%)</tspan><tspan x="641.4" y="2045.4">of 3072.09kB (7.46%)</tspan></text></g>
<g id="n-withCancelInternal"><rect class="n" x="824.6" y="2151.3" width="150" height="48.7" fill="#edebe8" stroke="#b2a48d"/><text class="t"><tspan x="899.6" y="2166.5">context</tspan><tspan x="899.6" y="2178.5">withCancel</tspan><tspan x="899.6" y="2190.5">0 of 1707.82kB (4.15%)</tspan></text></g>
<g id="n-protoMarshal"><rect class="n" x="1123.1" y="2151.3" width="142.3" height="48.7" fill="#edeceb" stroke="#b2afa7"/><text class="t"><tspan x="1194.3" y="2166.5">proto</tspan><tspan x="1194.3" y="2178.5">Marshal</tspan><tspan x="1194.3" y="2190.5">0 of 512.04kB (1.24%)</tspan></text></g>
<g id="n-withValue"><rect class="n" x="403" y="2293.3" width="205" height="70.5" fill="#edecea" stroke="#b2ab9c"/><text class="f17"><tspan x="505.5" y="2314.1">context</tspan><tspan x="505.5" y="2333.8">WithValue</tspan><tspan x="505.5" y="2353.4">1024.05kB (2.49%)</tspan></text></g>
<g id="n-newCancelCtx"><rect class="n" x="687" y="2293.3" width="205" height="70.5" fill="#edecea" stroke="#b2ab9c"/><text class="f17"><tspan x="789.5" y="2314.1">context</tspan><tspan x="789.5" y="2333.8">newCancelCtx</tspan><tspan x="789.5" y="2353.4">1024.08kB (2.49%)</tspan></text></g>
<g id="n-propagateCancel"><rect class="n" x="916.5" y="2295" width="183" height="67" fill="#edeceb" stroke="#b2aea3"/><text class="f16"><tspan x="1008" y="2315.1">context</tspan><tspan x="1008" y="2333.4">propagateCancel</tspan><tspan x="1008" y="2351.7">683.75kB (1.66%)</tspan></text></g>
<g id="n-marshalAppend"><rect class="n" x="1123.1" y="2304.5" width="142.5" height="48.2" fill="#edeceb" stroke="#b2afa7"/><text class="t"><tspan x="1194.3" y="2319.1">proto</tspan><tspan x="1194.3" y="2330.7">marshalAppend</tspan><tspan x="1194.3" y="2342.3">0 of 512.04kB (1.24%)</tspan></text></g>
<g id="n-marshalOptions"><rect class="n" x="1111" y="2432" width="167" height="80.5" fill="#edeceb" stroke="#b2afa7"/><text class="f15"><tspan x="1194.5" y="2449.9">proto</tspan><tspan x="1194.5" y="2466.9">MarshalOptions</tspan><tspan x="1194.5" y="2484.8">marshal</tspan><tspan x="1194.5" y="2501.7">512.04kB (1.24%)</tspan></text></g>

<g id="leaf-416B"><use href="#box3d" x="1469" y="576"/><text class="t" x="1502.5" y="606">416B</text></g>
<g id="leaf-64kB"><use href="#box3d" x="1841" y="576"/><text class="t" x="1874.5" y="606">64kB</text></g>
<g id="leaf-816kB"><use href="#box3d" x="2120" y="743"/><text class="t" x="2153.5" y="773">816kB</text></g>
<g id="leaf-408kB"><use href="#box3d" x="2476" y="743"/><text class="t" x="2509.5" y="773">408kB</text></g>
<g id="leaf-80B-reflect"><use href="#box3d" x="2741" y="743"/><text class="t" x="2774.5" y="773">80B</text></g>
<g id="leaf-3.12kB"><use href="#box3d" x="1540" y="1074"/><text class="t" x="1573.5" y="1104">3.12kB</text></g>
<g id="leaf-16B-a"><use href="#box3d" x="488" y="1074"/><text class="t" x="521.5" y="1104">16B</text></g>
<g id="leaf-96B-a"><use href="#box3d" x="727" y="1236"/><text class="t" x="760.5" y="1266">96B</text></g>
<g id="leaf-96B-b"><use href="#box3d" x="980" y="1813"/><text class="t" x="1013.5" y="1843">96B</text></g>
<g id="leaf-64B"><use href="#box3d" x="1336" y="2151"/><text class="t" x="1369.5" y="2181">64B</text></g>
<g id="leaf-2kB"><use href="#box3d" x="1464" y="2151"/><text class="t" x="1497.5" y="2181">2kB</text></g>
<g id="leaf-16B-b"><use href="#box3d" x="488" y="2151"/><text class="t" x="521.5" y="2181">16B</text></g>
<g id="leaf-32B"><use href="#box3d" x="729" y="2151"/><text class="t" x="762.5" y="2181">32B</text></g>
<g id="leaf-48B"><use href="#box3d" x="469.5" y="2448"/><text class="t" x="503" y="2478">48B</text></g>
<g id="leaf-80B-a"><use href="#box3d" x="753.5" y="2448"/><text class="t" x="787" y="2478">80B</text></g>
<g id="leaf-312kB"><use href="#box3d" x="972" y="2448"/><text class="t" x="1005.5" y="2478">312kB</text></g>
<g id="leaf-80B-b"><use href="#box3d" x="1159" y="2585"/><text class="t" x="1192.5" y="2615">80B</text></g>
<g id="leaf-4kB"><use href="#box3d" x="1968" y="2846"/><text class="t" x="2001.5" y="2876">4kB</text></g>
</svg>
